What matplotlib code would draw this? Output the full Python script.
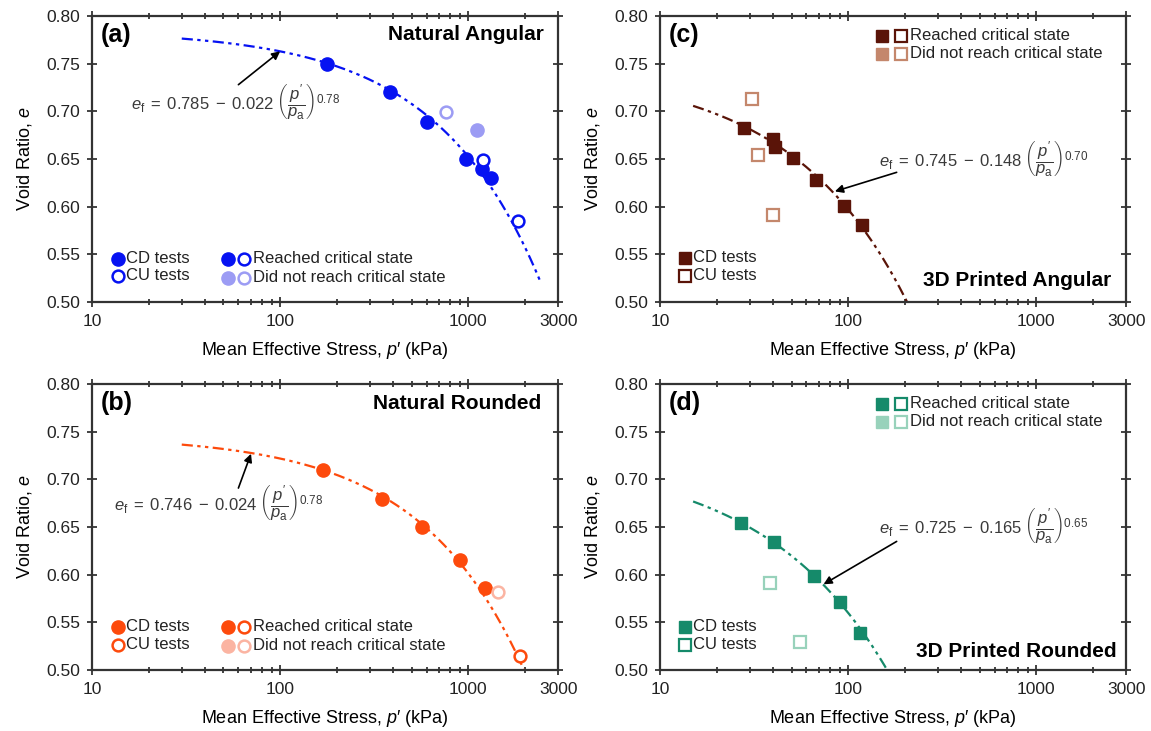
import numpy as np
import matplotlib
matplotlib.use("Agg")
import matplotlib.pyplot as plt
from matplotlib.ticker import FixedLocator, FixedFormatter, NullFormatter

plt.rcParams['font.family'] = ['Liberation Sans', 'DejaVu Sans']
plt.rcParams['mathtext.fontset'] = 'custom'
plt.rcParams['mathtext.rm'] = 'Liberation Sans'
plt.rcParams['mathtext.it'] = 'Liberation Sans:italic'
plt.rcParams['mathtext.bf'] = 'Liberation Sans:bold'

# ---- data: (mean effective stress p' [kPa], void ratio e) ----
# (a) Natural Angular
a_cd_p = [177, 385, 603, 973, 1183, 1324]
a_cd_e = [0.750, 0.720, 0.689, 0.650, 0.640, 0.630]
a_cu_p = [1197, 1837]
a_cu_e = [0.649, 0.585]
a_cd_nr_p = [1112]
a_cd_nr_e = [0.680]
a_cu_nr_p = [760]
a_cu_nr_e = [0.699]
a_fit = (0.785, 0.022, 0.78)
a_fit_range = (30, 2400)

# (b) Natural Rounded
b_cd_p = [168, 348, 567, 904, 1225]
b_cd_e = [0.710, 0.680, 0.650, 0.615, 0.586]
b_cu_p = [1879]
b_cu_e = [0.515]
b_cu_nr_p = [1432]
b_cu_nr_e = [0.582]
b_fit = (0.746, 0.024, 0.78)
b_fit_range = (30, 1976)

# (c) 3D Printed Angular
c_cd_p = [27.9, 40.0, 40.9, 50.8, 67.1, 95.2, 119]
c_cd_e = [0.683, 0.671, 0.663, 0.651, 0.628, 0.601, 0.581]
c_cu_nr_p = [31.0, 33.0, 40.0]
c_cu_nr_e = [0.713, 0.654, 0.591]
c_fit = (0.745, 0.148, 0.70)
c_fit_range = (15, 205)

# (d) 3D Printed Rounded
d_cd_p = [26.9, 40.2, 65.5, 90.7, 115.9]
d_cd_e = [0.654, 0.634, 0.599, 0.571, 0.539]
d_cu_nr_p = [38.4, 55.8]
d_cu_nr_e = [0.591, 0.529]
d_fit = (0.725, 0.165, 0.65)
d_fit_range = (15, 161)

x_ticks = [10, 100, 1000, 3000]
x_ticklabels = ['10', '100', '1000', '3000']
y_ticks = [0.50, 0.55, 0.60, 0.65, 0.70, 0.75, 0.80]

P_ATM = 100.0

BLUE, BLUE_L = '#0612f2', '#9c9cf4'
ORANGE, ORANGE_L = '#fd4a0c', '#fbb4a2'
BROWN, BROWN_L = '#5a1408', '#c4876c'
TEAL, TEAL_L = '#158a6a', '#98d2bb'

EQ_COLOR = '#3a3a3a'
LINE_DASH = (0, (5, 2, 1.5, 2, 1.5, 2))

fig = plt.figure(figsize=(11.51, 7.31), dpi=100)

ax_w, ax_h = 0.405, 0.391
ax_a = fig.add_axes([0.0799, 0.587, ax_w, ax_h])
ax_c = fig.add_axes([0.5734, 0.587, ax_w, ax_h])
ax_b = fig.add_axes([0.0799, 0.0834, ax_w, ax_h])
ax_d = fig.add_axes([0.5734, 0.0834, ax_w, ax_h])


def setup(ax):
    ax.set_xscale('log')
    ax.set_xlim(10, 3000)
    ax.set_ylim(0.50, 0.80)
    ax.xaxis.set_major_locator(FixedLocator(x_ticks))
    ax.xaxis.set_major_formatter(FixedFormatter(x_ticklabels))
    minors = [m * 10 ** k for k in (1, 2, 3) for m in range(2, 10) if m * 10 ** k < 3000]
    ax.xaxis.set_minor_locator(FixedLocator(minors))
    ax.xaxis.set_minor_formatter(NullFormatter())
    ax.set_yticks(y_ticks)
    ax.set_yticklabels(['%.2f' % v for v in y_ticks])
    ax.tick_params(which='both', direction='inout', top=True, right=True,
                   labelsize=12.5, width=1.2, colors='#222222')
    ax.tick_params(which='major', length=7)
    ax.tick_params(which='minor', length=5)
    ax.tick_params(axis='x', which='major', pad=5)
    ax.tick_params(axis='y', which='major', pad=5)
    for s in ax.spines.values():
        s.set_linewidth(1.6)
        s.set_color('#333333')
    ax.set_xlabel("Mean Effective Stress, $p$′ (kPa)", fontsize=13, labelpad=8)
    ax.set_ylabel("Void Ratio, $e$", fontsize=13, labelpad=9)


def fit_curve(ax, fit, prange, color):
    e0, lam, xi = fit
    p = np.logspace(np.log10(prange[0]), np.log10(prange[1]), 300)
    e = e0 - lam * (p / P_ATM) ** xi
    ax.plot(p, e, color=color, lw=1.6, linestyle=LINE_DASH, zorder=2)


def eq_label(ax, fit, xy_text):
    e0, lam, xi = fit
    txt = (r"$e_\mathrm{f}\;=\;%.3f\;-\;%.3f\;\left(\dfrac{p^{\prime}}{p_\mathrm{a}}\right)^{%.2f}$"
           % (e0, lam, xi))
    ax.text(xy_text[0], xy_text[1], txt, fontsize=12, color=EQ_COLOR,
            ha='left', va='center', zorder=5)


def arrow(ax, tail, head):
    ax.annotate('', xy=head, xytext=tail,
                arrowprops=dict(arrowstyle='-|>', color='black', lw=1.2,
                                mutation_scale=12, shrinkA=0, shrinkB=0),
                zorder=6)


def circ(ax, p, e, color, filled):
    if filled:
        ax.plot(p, e, 'o', ms=9.5, mfc=color, mec=color, mew=1, ls='none', zorder=4)
    else:
        ax.plot(p, e, 'o', ms=8.5, mfc='white', mec=color, mew=1.8, ls='none', zorder=4)


def sq(ax, p, e, color, filled):
    if filled:
        ax.plot(p, e, 's', ms=9, mfc=color, mec=color, mew=1, ls='none', zorder=4)
    else:
        ax.plot(p, e, 's', ms=8, mfc='white', mec=color, mew=1.6, ls='none', zorder=4)


def leg_marker(ax, x, y, marker, color, filled):
    if marker == 'o':
        ms, mew = (9.5, 1) if filled else (8.5, 1.8)
    else:
        ms, mew = (9, 1) if filled else (8, 1.6)
    ax.plot([x], [y], marker, transform=ax.transAxes, ms=ms,
            mfc=color if filled else 'white', mec=color, mew=mew,
            clip_on=False, zorder=6)


def leg_text(ax, x, y, s):
    ax.text(x, y, s, transform=ax.transAxes, fontsize=12, ha='left',
            va='center', color='#222222')


def natural_legend(ax, dark, light):
    leg_marker(ax, 0.055, 0.150, 'o', dark, True)
    leg_text(ax, 0.073, 0.152, 'CD tests')
    leg_marker(ax, 0.055, 0.089, 'o', dark, False)
    leg_text(ax, 0.073, 0.091, 'CU tests')
    leg_marker(ax, 0.292, 0.150, 'o', dark, True)
    leg_marker(ax, 0.326, 0.150, 'o', dark, False)
    leg_text(ax, 0.346, 0.152, 'Reached critical state')
    leg_marker(ax, 0.292, 0.085, 'o', light, True)
    leg_marker(ax, 0.326, 0.085, 'o', light, False)
    leg_text(ax, 0.346, 0.087, 'Did not reach critical state')


def printed_legend(ax, dark, light):
    leg_marker(ax, 0.477, 0.931, 's', dark, True)
    leg_marker(ax, 0.516, 0.931, 's', dark, False)
    leg_text(ax, 0.536, 0.933, 'Reached critical state')
    leg_marker(ax, 0.477, 0.867, 's', light, True)
    leg_marker(ax, 0.516, 0.867, 's', light, False)
    leg_text(ax, 0.536, 0.869, 'Did not reach critical state')
    leg_marker(ax, 0.054, 0.152, 's', dark, True)
    leg_text(ax, 0.070, 0.154, 'CD tests')
    leg_marker(ax, 0.054, 0.089, 's', dark, False)
    leg_text(ax, 0.070, 0.091, 'CU tests')


def titles(ax, letter, name, name_x, name_y):
    ax.text(0.018, 0.935, letter, transform=ax.transAxes, fontsize=18,
            fontweight='bold', ha='left', va='center')
    ax.text(name_x, name_y, name, transform=ax.transAxes, fontsize=15,
            fontweight='bold', ha='right', va='center')


for ax in (ax_a, ax_b, ax_c, ax_d):
    setup(ax)

# (a)
fit_curve(ax_a, a_fit, a_fit_range, BLUE)
circ(ax_a, a_cd_p, a_cd_e, BLUE, True)
circ(ax_a, a_cu_p, a_cu_e, BLUE, False)
circ(ax_a, a_cd_nr_p, a_cd_nr_e, BLUE_L, True)
circ(ax_a, a_cu_nr_p, a_cu_nr_e, BLUE_L, False)
eq_label(ax_a, a_fit, (16.1, 0.7085))
arrow(ax_a, (60, 0.728), (100, 0.763))
natural_legend(ax_a, BLUE, BLUE_L)
titles(ax_a, '(a)', 'Natural Angular', 0.970, 0.936)

# (b)
fit_curve(ax_b, b_fit, b_fit_range, ORANGE)
circ(ax_b, b_cd_p, b_cd_e, ORANGE, True)
circ(ax_b, b_cu_p, b_cu_e, ORANGE, False)
circ(ax_b, b_cu_nr_p, b_cu_nr_e, ORANGE_L, False)
eq_label(ax_b, b_fit, (13.1, 0.674))
arrow(ax_b, (60, 0.691), (70, 0.727))
natural_legend(ax_b, ORANGE, ORANGE_L)
titles(ax_b, '(b)', 'Natural Rounded', 0.964, 0.933)

# (c)
fit_curve(ax_c, c_fit, c_fit_range, BROWN)
sq(ax_c, c_cd_p, c_cd_e, BROWN, True)
sq(ax_c, c_cu_nr_p, c_cu_nr_e, BROWN_L, False)
eq_label(ax_c, c_fit, (146, 0.649))
arrow(ax_c, (181, 0.636), (85, 0.616))
printed_legend(ax_c, BROWN, BROWN_L)
titles(ax_c, '(c)', '3D Printed Angular', 0.968, 0.075)

# (d)
fit_curve(ax_d, d_fit, d_fit_range, TEAL)
sq(ax_d, d_cd_p, d_cd_e, TEAL, True)
sq(ax_d, d_cu_nr_p, d_cu_nr_e, TEAL_L, False)
eq_label(ax_d, d_fit, (146, 0.650))
arrow(ax_d, (181, 0.635), (74, 0.590))
printed_legend(ax_d, TEAL, TEAL_L)
titles(ax_d, '(d)', '3D Printed Rounded', 0.979, 0.065)

fig.savefig('out.png', dpi=100)
